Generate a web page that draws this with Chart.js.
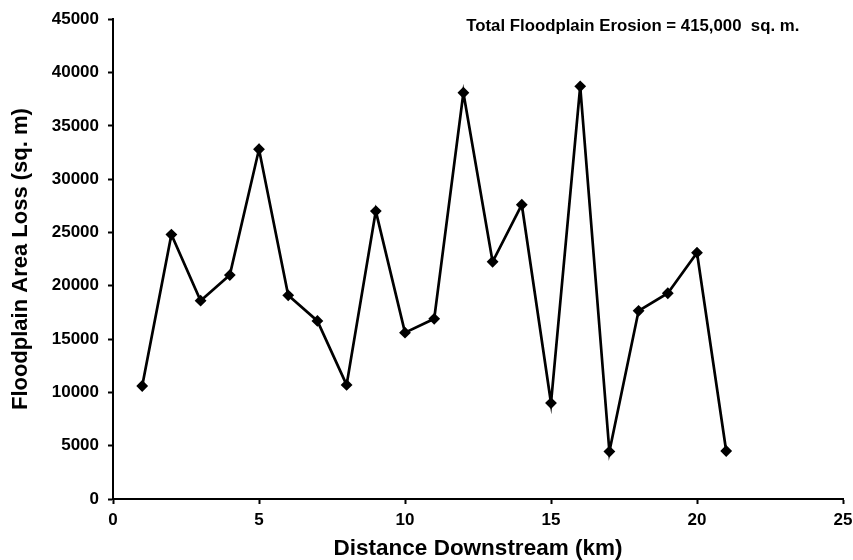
<!DOCTYPE html>
<html>
<head>
<meta charset="utf-8">
<script src="https://cdn.jsdelivr.net/npm/chart.js@4/dist/chart.umd.min.js"></script>
<style>
  html, body { margin: 0; padding: 0; background: #fff; }
  #wrap { width: 853px; height: 560px; }
</style>
</head>
<body>
<div id="wrap"><canvas id="c" width="853" height="560"></canvas></div>
<script>
const distanceKm = [1, 2, 3, 4, 5, 6, 7, 8, 9, 10, 11, 12, 13, 14, 15, 16, 17, 18, 19, 20, 21];
const areaLoss = [10600, 24800, 18600, 21000, 32800, 19100, 16700, 10700, 27000, 15600, 16900, 38100, 22250, 27600, 9000, 38700, 4450, 17650, 19300, 23100, 4500];
const xTitle = 'Distance Downstream (km)';
const yTitle = 'Floodplain Area Loss (sq. m)';
const annotationText = 'Total Floodplain Erosion = 415,000  sq. m.';

const FONT = "'Liberation Sans', Arial, Helvetica, sans-serif";
Chart.defaults.color = '#000';
Chart.defaults.font.family = FONT;

const annotationPlugin = {
  id: 'annot',
  afterDraw(chart) {
    const ctx = chart.ctx;
    const xs = chart.scales.x;
    ctx.save();
    ctx.font = "bold 16.8px " + FONT;
    ctx.fillStyle = '#000';
    ctx.textAlign = 'center';
    ctx.textBaseline = 'middle';
    ctx.fillText(annotationText, xs.getPixelForValue(17.8), chart.chartArea.top + 7);
    ctx.restore();
  }
};

new Chart(document.getElementById('c'), {
  type: 'line',
  data: {
    datasets: [{
      data: distanceKm.map((x, i) => ({ x: x, y: areaLoss[i] })),
      borderColor: '#000',
      backgroundColor: '#000',
      borderWidth: 2.7,
      tension: 0,
      pointStyle: 'rectRot',
      pointRadius: 4,
      pointHoverRadius: 4,
      pointBackgroundColor: '#000',
      pointBorderColor: '#000',
      fill: false
    }]
  },
  options: {
    responsive: false,
    animation: false,
    events: [],
    layout: { padding: { top: 14, right: 10, left: 8, bottom: 0 } },
    plugins: { legend: { display: false }, tooltip: { enabled: false } },
    scales: {
      x: {
        type: 'linear',
        min: 0, max: 25,
        afterFit(s) { s.height = 61; s.paddingRight = 0; s.paddingLeft = 0; },
        ticks: { stepSize: 5, padding: 6, font: { size: 17, weight: 'bold' }, color: '#000', maxRotation: 0 },
        grid: { display: true, drawOnChartArea: false, drawTicks: true, tickLength: 5, tickColor: '#000', tickWidth: 2 },
        border: { display: true, color: '#000', width: 2 },
        title: { display: true, text: xTitle, font: { size: 22.5, weight: 'bold', lineHeight: 1.0 }, color: '#000', padding: 0 }
      },
      y: {
        type: 'linear',
        min: 0, max: 45000,
        afterFit(s) { s.width = 105; },
        ticks: { stepSize: 5000, padding: 9, font: { size: 17, weight: 'bold' }, color: '#000', callback: v => String(v) },
        grid: { display: true, drawOnChartArea: false, drawTicks: true, tickLength: 5, tickColor: '#000', tickWidth: 2 },
        border: { display: true, color: '#000', width: 2 },
        title: { display: true, text: yTitle, font: { size: 22, weight: 'bold', lineHeight: 1.2 }, color: '#000', padding: 0 }
      }
    }
  },
  plugins: [annotationPlugin]
});
</script>
</body>
</html>
